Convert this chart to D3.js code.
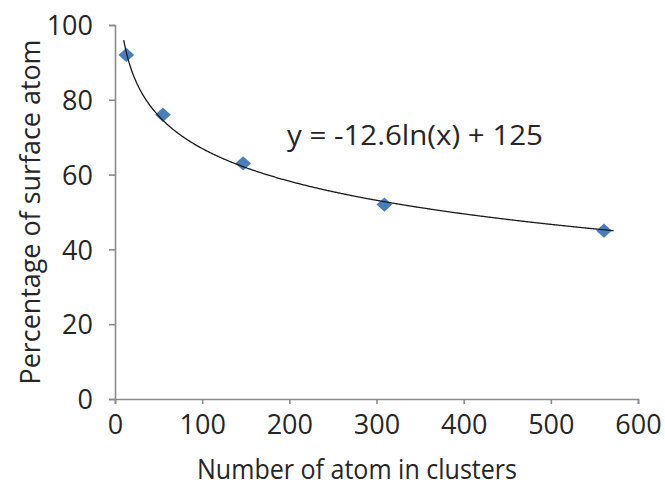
<!DOCTYPE html>
<html>
<head>
<meta charset="utf-8">
<script src="https://cdn.jsdelivr.net/npm/d3@7"></script>
<style>
  body { margin: 0; background: #fff; }
  svg text { font-family: "Open Sans", "Noto Sans", sans-serif; fill: #262626; }
</style>
</head>
<body>
<svg width="665" height="489"></svg>
<script>
const clusterSizes = [13, 55, 147, 309, 561];
const surfacePercent = [92, 76, 63, 52, 45];
const xTicks = [0, 100, 200, 300, 400, 500, 600];
const yTicks = [0, 20, 40, 60, 80, 100];
const trendCoef = { a: -12.6, b: 125 };
const trendRange = [10, 572];

const svg = d3.select('svg');
const margin = { top: 25, left: 115 };
const width = 523;
const height = 374;

const x = d3.scaleLinear().domain([0, 600]).range([0, width]);
const y = d3.scaleLinear().domain([0, 100]).range([height, 0]);

const g = svg.append('g')
  .attr('transform', `translate(${margin.left},${margin.top})`);

const xAxis = g.append('g')
  .attr('transform', `translate(0,${height})`)
  .call(d3.axisBottom(x).tickValues(xTicks).tickSize(5).tickPadding(11));

const yAxis = g.append('g')
  .call(d3.axisLeft(y).tickValues(yTicks).tickSize(6).tickPadding(16));

[xAxis, yAxis].forEach(ax => {
  ax.selectAll('path, line').attr('stroke', '#8a8a8a').attr('stroke-width', 1.6);
  ax.selectAll('text').attr('font-size', 27).attr('fill', '#262626')
    .attr('font-family', '"Open Sans", sans-serif');
});
yAxis.selectAll('text').attr('dy', '0.36em');

// trendline
const trendPts = d3.range(trendRange[0], trendRange[1] + 1, 1);
const line = d3.line()
  .x(d => x(d))
  .y(d => y(trendCoef.a * Math.log(d) + trendCoef.b));

const points = clusterSizes.map((c, i) => ({ x: c, y: surfacePercent[i] }));

g.selectAll('.pt')
  .data(points)
  .enter()
  .append('path')
    .attr('class', 'pt')
    .attr('d', d3.symbol(d3.symbolDiamond2, 130))
    .attr('transform', d => `translate(${x(d.x)},${y(d.y)}) scale(1.1,1)`)
    .attr('fill', '#4a7ebb');

g.append('path')
  .datum(trendPts)
  .attr('d', line)
  .attr('fill', 'none')
  .attr('stroke', '#1a1a1a')
  .attr('stroke-width', 1.3);

svg.append('text')
  .attr('x', 287)
  .attr('y', 145)
  .attr('font-size', 28)
  .attr('textLength', 256)
  .attr('lengthAdjust', 'spacingAndGlyphs')
  .text(`y = ${trendCoef.a}ln(x) + ${trendCoef.b}`);

svg.append('text')
  .attr('x', 197)
  .attr('y', 479)
  .attr('font-size', 28)
  .attr('textLength', 320)
  .attr('lengthAdjust', 'spacingAndGlyphs')
  .text('Number of atom in clusters');

svg.append('text')
  .attr('transform', `translate(40,${margin.top + height / 2}) rotate(-90)`)
  .attr('text-anchor', 'middle')
  .attr('font-size', 28)
  .attr('textLength', 345)
  .attr('lengthAdjust', 'spacingAndGlyphs')
  .text('Percentage of surface atom');
</script>
</body>
</html>
